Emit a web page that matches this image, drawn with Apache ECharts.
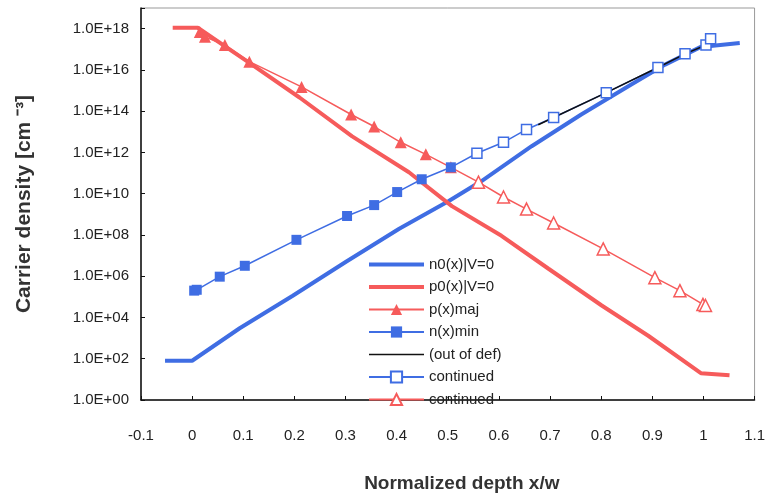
<!DOCTYPE html>
<html>
<head>
<meta charset="utf-8">
<script src="https://cdn.jsdelivr.net/npm/echarts@6/dist/echarts.min.js"></script>
<style>
  html, body { margin: 0; padding: 0; background: #fff; }
  #chart { width: 768px; height: 498px; }
</style>
</head>
<body>
<div id="chart"></div>
<script>
  // n0(x)|V=0 - thick blue
  const n0X = [-0.053, 0.0, 0.093, 0.196, 0.301, 0.405, 0.502, 0.566, 0.664, 0.761, 0.858, 0.925, 0.995, 1.071];
  const n0Y = [80, 80, 3.0e3, 1.1e5, 5.0e6, 2.0e8, 4.4e9, 4.1e10, 2.0e12, 6.9e13, 1.9e15, 1.8e16, 1.3e17, 2.0e17];
  // p0(x)|V=0 - thick red
  const p0X = [-0.038, 0.011, 0.112, 0.210, 0.313, 0.424, 0.508, 0.605, 0.697, 0.801, 0.892, 0.995, 1.051];
  const p0Y = [1.1e18, 1.1e18, 2.2e16, 4.6e14, 6.0e12, 1.1e11, 2.5e9, 9.1e7, 2.3e6, 3.8e4, 1.3e3, 20, 16];
  // p(x)maj - filled triangles
  const pMajX = [0.015, 0.025, 0.064, 0.112, 0.214, 0.311, 0.356, 0.408, 0.457, 0.506];
  const pMajY = [6.9e17, 4.0e17, 1.6e17, 2.5e16, 1.5e15, 6.9e13, 1.8e13, 3.1e12, 8.1e11, 1.9e11];
  // n(x)min - filled squares
  const nMinX = [0.004, 0.009, 0.054, 0.103, 0.204, 0.303, 0.356, 0.401, 0.449, 0.506];
  const nMinY = [2.0e5, 2.2e5, 9.5e5, 3.2e6, 5.8e7, 8.3e8, 2.8e9, 1.2e10, 5.0e10, 1.9e11];
  // (out of def) - black
  const outX = [0.677, 0.810, 0.911, 0.964, 1.005];
  const outY = [2.2e13, 7.9e14, 1.3e16, 6.0e16, 1.6e17];
  // continued (blue hollow squares)
  const nContX = [0.557, 0.609, 0.654, 0.707, 0.810, 0.911, 0.964, 1.005, 1.014];
  const nContY = [9.1e11, 3.1e12, 1.3e13, 4.9e13, 7.9e14, 1.3e16, 6.0e16, 1.6e17, 3.2e17];
  // continued (red hollow triangles)
  const pContX = [0.560, 0.609, 0.654, 0.707, 0.804, 0.905, 0.954, 0.999, 1.004];
  const pContY = [3.6e10, 6.9e9, 1.8e9, 3.8e8, 2.1e7, 8.5e5, 2.0e5, 4.3e4, 3.8e4];

  const blue = '#3f6de3';
  const red = '#f65b5b';
  const font = "'Liberation Sans', Arial, sans-serif";

  const pairs = (xs, ys) => xs.map((x, i) => [x, ys[i]]);
  // continued lines start from the last point of the measured series
  const joined = (x0, y0, xs, ys) =>
    [{ value: [x0, y0], symbol: 'none' }].concat(pairs(xs, ys));

  // plain line icons for series without markers
  const thickIcon = 'path://M0,0L55,0L55,4L0,4Z';
  const thinIcon = 'path://M0,0L55,0L55,1.5L0,1.5Z';

  const chart = echarts.init(document.getElementById('chart'));

  chart.setOption({
    animation: false,
    grid: {
      left: 141, right: 11, top: 8, bottom: 96,
      show: true, borderColor: '#999', borderWidth: 1
    },
    legend: {
      orient: 'vertical',
      left: 363, top: 252,
      itemWidth: 55, itemHeight: 14, itemGap: 7.5,
      textStyle: { fontFamily: font, fontSize: 15, color: '#222' },
      data: [
        { name: 'n0(x)|V=0', icon: thickIcon },
        { name: 'p0(x)|V=0', icon: thickIcon },
        'p(x)maj',
        'n(x)min',
        { name: '(out of def)', icon: thinIcon },
        'continued',
        'continued '
      ]
    },
    xAxis: {
      type: 'value',
      min: -0.1, max: 1.1, interval: 0.1,
      name: 'Normalized depth x/w',
      nameLocation: 'middle', nameGap: 74,
      nameTextStyle: {
        fontFamily: font, fontSize: 19, fontWeight: 'bold', color: '#333',
        padding: [0, 0, 0, 28]
      },
      axisLine: { onZero: false, lineStyle: { color: '#111', width: 1.5 } },
      axisTick: { inside: true, length: 4, lineStyle: { color: '#111' } },
      axisLabel: {
        margin: 28, fontFamily: font, fontSize: 15, color: '#222',
        formatter: v => String(Math.round(v * 10) / 10)
      },
      splitLine: { show: false }
    },
    yAxis: {
      type: 'log', logBase: 10,
      min: 1, max: 1e19, interval: 2,
      name: 'Carrier density [cm \u207B\u00B3]',
      nameLocation: 'middle', nameGap: 106,
      nameTextStyle: { fontFamily: font, fontSize: 21, fontWeight: 'bold', color: '#333' },
      axisLine: { show: true, onZero: false, lineStyle: { color: '#111', width: 1.5 } },
      axisTick: { show: true, inside: true, length: 4, lineStyle: { color: '#111' } },
      axisLabel: {
        margin: 12, fontFamily: font, fontSize: 15, color: '#222',
        formatter: v => {
          const e = Math.round(Math.log10(v));
          if (e % 2 !== 0) return '';
          return '1.0E+' + (e < 10 ? '0' + e : e);
        }
      },
      splitLine: { show: false }
    },
    series: [
      {
        name: 'n0(x)|V=0', type: 'line', symbol: 'none',
        lineStyle: { color: blue, width: 4 }, itemStyle: { color: blue },
        data: pairs(n0X, n0Y)
      },
      {
        name: 'p0(x)|V=0', type: 'line', symbol: 'none',
        lineStyle: { color: red, width: 4 }, itemStyle: { color: red },
        data: pairs(p0X, p0Y)
      },
      {
        name: 'p(x)maj', type: 'line', symbol: 'triangle', symbolSize: 12,
        lineStyle: { color: red, width: 1.5 }, itemStyle: { color: red },
        data: pairs(pMajX, pMajY)
      },
      {
        name: 'n(x)min', type: 'line', symbol: 'rect', symbolSize: 10,
        lineStyle: { color: blue, width: 1.5 }, itemStyle: { color: blue },
        data: pairs(nMinX, nMinY)
      },
      {
        name: 'continued', type: 'line', symbol: 'rect', symbolSize: 10,
        lineStyle: { color: blue, width: 1.5 },
        itemStyle: { color: '#fff', borderColor: blue, borderWidth: 1.5 },
        data: joined(nMinX[nMinX.length - 1], nMinY[nMinY.length - 1], nContX, nContY)
      },
      {
        name: '(out of def)', type: 'line', symbol: 'none',
        lineStyle: { color: '#111', width: 1.5 }, itemStyle: { color: '#111' },
        data: pairs(outX, outY)
      },
      {
        name: 'continued ', type: 'line', symbol: 'triangle', symbolSize: 12,
        lineStyle: { color: red, width: 1.5 },
        itemStyle: { color: '#fff', borderColor: red, borderWidth: 1.5 },
        data: joined(pMajX[pMajX.length - 1], pMajY[pMajY.length - 1], pContX, pContY)
      }
    ]
  });

  window.addEventListener('resize', function () {
    chart && chart.resize();
  });
</script>
</body>
</html>
